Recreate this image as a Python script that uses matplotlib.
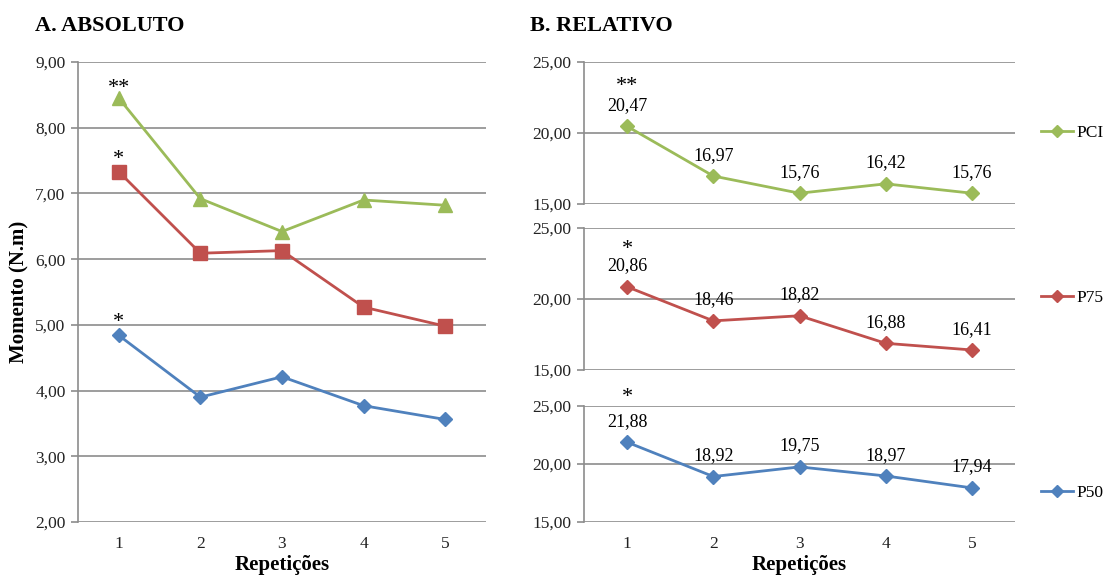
import matplotlib.pyplot as plt
from matplotlib.ticker import FuncFormatter

plt.rcParams['font.family'] = ['Liberation Serif', 'DejaVu Serif']

# data
reps = [1, 2, 3, 4, 5]
abs_pci = [8.45, 6.92, 6.42, 6.90, 6.82]
abs_p75 = [7.33, 6.09, 6.13, 5.27, 4.98]
abs_p50 = [4.84, 3.90, 4.21, 3.77, 3.56]
rel_pci = [20.47, 16.97, 15.76, 16.42, 15.76]
rel_p75 = [20.86, 18.46, 18.82, 16.88, 16.41]
rel_p50 = [21.88, 18.92, 19.75, 18.97, 17.94]
stars_abs = ['**', '*', '*']
stars_rel = ['**', '*', '*']

green = '#9BBB59'
red = '#C0504D'
blue = '#4F81BD'
grid_c = '#8C8C8C'

W, H = 1105, 576
fig = plt.figure(figsize=(W / 100, H / 100), dpi=100)


def px(l, t, r, b):
    return [l / W, 1 - b / H, (r - l) / W, (b - t) / H]


comma = FuncFormatter(lambda v, p: ('%.2f' % v).replace('.', ','))


def style(ax, ymin, ymax, step):
    ax.set_xlim(0.5, 5.5)
    ax.set_ylim(ymin, ymax)
    ax.set_yticks([ymin + i * step for i in range(int(round((ymax - ymin) / step)) + 1)])
    ax.yaxis.set_major_formatter(comma)
    ax.grid(axis='y', color=grid_c, lw=1.2)
    ax.set_axisbelow(True)
    for s in ['top', 'right', 'bottom']:
        ax.spines[s].set_visible(False)
    ax.spines['left'].set_color(grid_c)
    ax.spines['left'].set_linewidth(1.2)
    ax.tick_params(axis='y', colors=grid_c, length=5, width=1.2, labelsize=12.5,
                   labelcolor='#222222', pad=4)
    ax.tick_params(axis='x', length=0, labelsize=12.5, labelcolor='#222222', pad=10)
    ax.set_xticks(reps)


# A. ABSOLUTO
ax = fig.add_axes(px(78, 62, 486, 522))
style(ax, 2, 9, 1)
ax.plot(reps, abs_pci, color=green, lw=2, marker='^', ms=10)
ax.plot(reps, abs_p75, color=red, lw=2, marker='s', ms=9.5)
ax.plot(reps, abs_p50, color=blue, lw=2, marker='D', ms=7.5)
for vals, st, off in zip([abs_pci, abs_p75, abs_p50], stars_abs, [7, 9, 9.5]):
    ax.annotate(st, (1, vals[0]), xytext=(0, off), textcoords='offset points',
                ha='center', va='center', fontsize=16)
ax.set_xlabel('Repetições', fontsize=15, fontweight='bold', labelpad=2)
ax.set_ylabel('Momento (N.m)', fontsize=15, fontweight='bold', labelpad=4)
fig.text(35 / W, 1 - 26 / H, 'A. ABSOLUTO', fontsize=16, fontweight='bold', va='center')

# B. RELATIVO
fig.text(530 / W, 1 - 26 / H, 'B. RELATIVO', fontsize=16, fontweight='bold', va='center')
boxes = [(62, 204), (228, 370), (406, 522)]
series = [(rel_pci, green, 'PCI'), (rel_p75, red, 'P75'), (rel_p50, blue, 'P50')]
legend_y = [133, 298, 493]
star_off = [21.5, 20, 25]
for (t, b), (vals, c, name), st, ly, so in zip(boxes, series, stars_rel, legend_y, star_off):
    a = fig.add_axes(px(584, t, 1015, b))
    style(a, 15, 25, 5)
    a.plot(reps, vals, color=c, lw=2, marker='D', ms=7, label=name)
    for x, v in zip(reps, vals):
        a.annotate(('%.2f' % v).replace('.', ','), (x, v), xytext=(0, 15),
                   textcoords='offset points', ha='center', va='center', fontsize=13)
    a.annotate(st, (1, vals[0]), xytext=(0, so), textcoords='offset points',
               ha='center', va='bottom', fontsize=16)
    yfrac = (b - ly) / (b - t)
    a.legend(loc='center left', bbox_to_anchor=((1041 - 584) / 431, yfrac), frameon=False,
             handlelength=1.85, handletextpad=0.2, borderaxespad=0, borderpad=0,
             fontsize=12.5, markerscale=0.9)
    if b == 522:
        a.set_xlabel('Repetições', fontsize=15, fontweight='bold', labelpad=2)
    else:
        a.set_xticklabels([])
        a.tick_params(axis='x', pad=0)

fig.savefig('out.png', dpi=100)
